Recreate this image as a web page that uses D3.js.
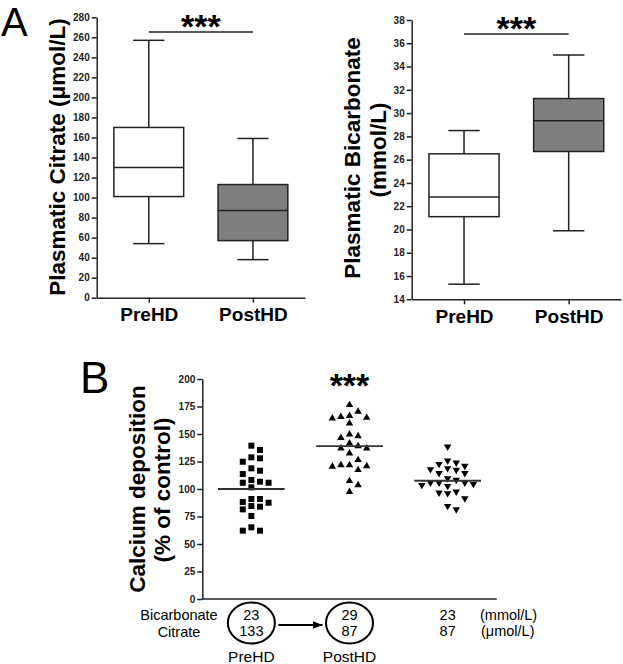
<!DOCTYPE html>
<html>
<head>
<meta charset="utf-8">
<script src="https://cdn.jsdelivr.net/npm/d3@7"></script>
<style>
  body { margin: 0; background: #fff; }
  svg { font-family: "Liberation Sans", Arial, sans-serif; }
  .tick text { font-weight: bold; }
</style>
</head>
<body>
<div id="chart"></div>
<script>
const width = 623, height = 664;

// groups
const groups = ["PreHD", "PostHD"];

// box stats [whisker low, q1, median, q3, whisker high]
const citrateBoxes = [
  [54, 101, 130, 170, 257],
  [38, 57, 87, 113, 159]
];
const bicarbBoxes = [
  [15.3, 21.1, 22.8, 26.5, 28.5],
  [19.9, 26.7, 29.35, 31.25, 35]
];
const boxFills = ["#ffffff", "#7f7f7f"];

const citrateTicks = d3.range(0, 281, 20);
const bicarbTicks = d3.range(14, 39, 2);

// panel B : calcium deposition, % of control
const depoGroups = ["PreHD", "PostHD", "Mix"];
const depoPre = [139.4, 135.5, 127.9, 124.8, 128.8, 118.8, 113.6, 116.6, 106.6, 105.7, 101.5, 105.7,
  108.2, 90.9, 87.5, 81.5, 83.9, 84.5, 88.2, 90.9, 75.5, 65.2, 62.1, 62.1];
const depoPost = [176.4, 166.6, 164.8, 170.3, 159.7, 164.3, 165.7, 148.2, 146.6, 149.7, 139.1, 137.0,
  137.0, 141.5, 132.5, 121.8, 120.9, 126.4, 117.3, 120.3, 121.8, 107.3, 103.6, 97.5];
const depoMix = [138.5, 125.7, 122.7, 123.9, 120.9, 117.9, 114.3, 114.3, 117.3, 118.8, 108.2, 105.7,
  104.5, 102.7, 109.7, 103.6, 105.7, 105.7, 97.5, 96.1, 91.5, 96.6, 81.5, 84.5];
const depoMedians = [100, 139, 107.5];
const depoTicks = d3.range(0, 201, 25);

// conditions under panel B
const bicarbValues = ["23", "29", "23"];
const citrateValues = ["133", "87", "87"];

const svg = d3.select("#chart").append("svg")
  .attr("width", width)
  .attr("height", height);

const ink = "#222";

// ---------- panel A helper ----------
function boxPanel(opts) {
  const x = d3.scalePoint().domain(groups).range(opts.xr).padding(0.5);
  const y = d3.scaleLinear().domain(opts.domain).range(opts.yr);
  const step = x.step();
  const bw = step * 0.67, cw = step * 0.3;

  const g = svg.append("g");

  const yAxis = g.append("g")
    .attr("transform", `translate(${opts.xr[0]},0)`)
    .call(d3.axisLeft(y).tickValues(opts.ticks).tickSize(5).tickSizeOuter(0).tickPadding(2));
  yAxis.selectAll("text").style("font-size", "10px").attr("fill", ink);
  yAxis.selectAll("line,path").attr("stroke", ink).attr("stroke-width", 1.5);

  const xAxis = g.append("g")
    .attr("transform", `translate(0,${opts.yr[0]})`)
    .call(d3.axisBottom(x).tickSize(5).tickSizeOuter(0).tickPadding(5));
  xAxis.selectAll("text").style("font-size", "19px").attr("fill", "#000");
  xAxis.selectAll("line,path").attr("stroke", ink).attr("stroke-width", 1.5);

  const boxes = g.selectAll(".box")
    .data(opts.boxes)
    .join("g")
    .attr("transform", (d, i) => `translate(${x(groups[i])},0)`);

  // whiskers
  boxes.append("line")
    .attr("y1", d => y(d[0])).attr("y2", d => y(d[1]))
    .attr("stroke", ink).attr("stroke-width", 1.5);
  boxes.append("line")
    .attr("y1", d => y(d[3])).attr("y2", d => y(d[4]))
    .attr("stroke", ink).attr("stroke-width", 1.5);
  boxes.selectAll(".cap")
    .data(d => [d[0], d[4]])
    .join("line")
    .attr("x1", -cw / 2).attr("x2", cw / 2)
    .attr("y1", v => y(v)).attr("y2", v => y(v))
    .attr("stroke", ink).attr("stroke-width", 1.5);

  boxes.append("rect")
    .attr("x", -bw / 2).attr("width", bw)
    .attr("y", d => y(d[3]))
    .attr("height", d => y(d[1]) - y(d[3]))
    .attr("fill", (d, i) => boxFills[i])
    .attr("stroke", ink).attr("stroke-width", 1.5);
  boxes.append("line")
    .attr("x1", -bw / 2).attr("x2", bw / 2)
    .attr("y1", d => y(d[2])).attr("y2", d => y(d[2]))
    .attr("stroke", ink).attr("stroke-width", 1.5);

  // significance bar
  g.append("line")
    .attr("x1", x(groups[0])).attr("x2", x(groups[1]))
    .attr("y1", opts.sigY).attr("y2", opts.sigY)
    .attr("stroke", ink).attr("stroke-width", 1.5);
  g.append("text")
    .attr("x", (x(groups[0]) + x(groups[1])) / 2)
    .attr("y", opts.sigY + 6)
    .attr("text-anchor", "middle")
    .style("font-size", "34px").style("font-weight", "bold")
    .text("***");

  // y label lines
  opts.labels.forEach(l => {
    g.append("text")
      .attr("transform", `translate(${l.x},${l.y}) rotate(-90)`)
      .attr("text-anchor", "middle")
      .style("font-size", "22.5px").style("font-weight", "bold")
      .text(l.text);
  });
}

boxPanel({
  xr: [96.7, 305], yr: [297.7, 17.3], domain: [0, 280], ticks: citrateTicks,
  boxes: citrateBoxes, sigY: 32,
  labels: [{ x: 65, y: 157, text: "Plasmatic Citrate (\u03bcmol/L)" }]
});
boxPanel({
  xr: [411.7, 621], yr: [299.3, 20], domain: [14, 38], ticks: bicarbTicks,
  boxes: bicarbBoxes, sigY: 34,
  labels: [
    { x: 360, y: 158, text: "Plasmatic Bicarbonate" },
    { x: 386, y: 150, text: "(mmol/L)" }
  ]
});

svg.append("text").attr("x", 1).attr("y", 36)
  .style("font-size", "40px").text("A");
svg.append("text").attr("x", 80).attr("y", 393)
  .style("font-size", "44px").text("B");

// ---------- panel B ----------
const xB = d3.scalePoint().domain(depoGroups).range([202.3, 496.7]).padding(0.5);
const yB = d3.scaleLinear().domain([0, 200]).range([599, 379]);
const stepB = xB.step();

const gB = svg.append("g");
const yAxisB = gB.append("g")
  .attr("transform", `translate(${xB.range()[0]},0)`)
  .call(d3.axisLeft(yB).tickValues(depoTicks).tickSize(5).tickSizeOuter(0).tickPadding(2));
yAxisB.selectAll("text").style("font-size", "10px").attr("fill", ink);
yAxisB.selectAll("line,path").attr("stroke", ink).attr("stroke-width", 1.5);

gB.append("line")
  .attr("x1", xB.range()[0]).attr("x2", xB.range()[1])
  .attr("y1", yB(0)).attr("y2", yB(0))
  .attr("stroke", ink).attr("stroke-width", 1.5);

// simple dodge so that close values spread sideways
function dodge(values, colW, minDy) {
  const order = [0, 1, -1, 2, -2, 3, -3, 4, -4];
  const placed = [];
  values.slice().sort((a, b) => b - a).forEach(v => {
    const py = yB(v);
    for (const k of order) {
      const hit = placed.some(p => p.k === k && Math.abs(p.py - py) < minDy);
      if (!hit) { placed.push({ v, py, k, dx: k * colW }); break; }
    }
  });
  return placed;
}

const series = [
  { data: depoPre, symbol: d3.symbolSquare, size: 36, rot: 0 },
  { data: depoPost, symbol: d3.symbolTriangle, size: 24, rot: 0 },
  { data: depoMix, symbol: d3.symbolTriangle, size: 24, rot: 180 }
];

series.forEach((s, i) => {
  const cx = xB(depoGroups[i]);
  const pts = dodge(s.data, 8.6, 7);
  gB.append("g").selectAll("path")
    .data(pts)
    .join("path")
    .attr("d", d3.symbol().type(s.symbol).size(s.size))
    .attr("transform", d => `translate(${cx + d.dx},${d.py}) rotate(${s.rot})`)
    .attr("fill", "#000");
  gB.append("line")
    .attr("x1", cx - stepB * 0.34).attr("x2", cx + stepB * 0.34)
    .attr("y1", yB(depoMedians[i])).attr("y2", yB(depoMedians[i]))
    .attr("stroke", "#333").attr("stroke-width", 1.8);
});

gB.append("text")
  .attr("x", xB("PostHD")).attr("y", 397)
  .attr("text-anchor", "middle")
  .style("font-size", "34px").style("font-weight", "bold")
  .text("***");

gB.append("text")
  .attr("transform", "translate(145,489) rotate(-90)")
  .attr("text-anchor", "middle")
  .style("font-size", "22.5px").style("font-weight", "bold")
  .text("Calcium  deposition");
gB.append("text")
  .attr("transform", "translate(170,490) rotate(-90)")
  .attr("text-anchor", "middle")
  .style("font-size", "22.5px").style("font-weight", "bold")
  .text("(% of control)");

// conditions table
const rowY = [620, 635.5];
const cond = svg.append("g").style("font-size", "14.5px");
cond.append("text").attr("x", 179).attr("y", rowY[0]).attr("text-anchor", "middle").text("Bicarbonate");
cond.append("text").attr("x", 179).attr("y", rowY[1] + 1).attr("text-anchor", "middle").text("Citrate");

depoGroups.forEach((gname, i) => {
  const cx = xB(gname);
  cond.append("text").attr("x", cx).attr("y", rowY[0]).attr("text-anchor", "middle").text(bicarbValues[i]);
  cond.append("text").attr("x", cx).attr("y", rowY[1]).attr("text-anchor", "middle").text(citrateValues[i]);
  if (i < 2) {
    cond.append("ellipse")
      .attr("cx", cx).attr("cy", 623)
      .attr("rx", 23.5).attr("ry", 20.5)
      .attr("fill", "none").attr("stroke", "#000").attr("stroke-width", 2);
    cond.append("text").attr("x", cx).attr("y", 662)
      .attr("text-anchor", "middle").style("font-size", "15.5px").text(gname);
  }
});
cond.append("text").attr("x", 480).attr("y", rowY[0]).text("(mmol/L)");
cond.append("text").attr("x", 481).attr("y", rowY[1]).text("(\u03bcmol/L)");

// arrow PreHD -> PostHD
svg.append("defs").append("marker")
  .attr("id", "head").attr("viewBox", "0 0 10 10")
  .attr("refX", 10).attr("refY", 5)
  .attr("markerWidth", 5).attr("markerHeight", 5)
  .attr("orient", "auto")
  .append("path").attr("d", "M0,1L10,5L0,9Z").attr("fill", "#000");
svg.append("line")
  .attr("x1", xB("PreHD") + 27).attr("x2", xB("PostHD") - 27)
  .attr("y1", 625).attr("y2", 625)
  .attr("stroke", "#000").attr("stroke-width", 2)
  .attr("marker-end", "url(#head)");
</script>
</body>
</html>
